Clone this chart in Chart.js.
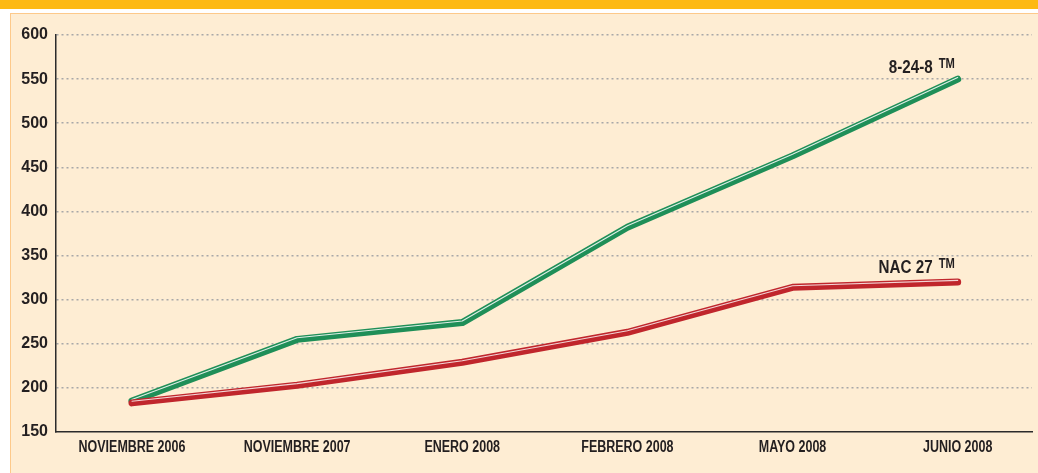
<!DOCTYPE html>
<html>
<head>
<meta charset="utf-8">
<script src="https://cdn.jsdelivr.net/npm/chart.js@4/dist/chart.umd.min.js"></script>
<style>
  html, body { margin: 0; padding: 0; background: #ffffff; overflow: hidden; }
  #band { position: absolute; left: 0; top: 0; width: 1038px; height: 9px; background: #fdb913; }
  #panel { position: absolute; left: 10px; top: 13px; width: 1040px; height: 480px;
           background: #feedd3; border: 1.5px solid #fdc98a; box-sizing: border-box; }
  #chart { position: absolute; left: 0; top: 0; }
</style>
</head>
<body>
<div id="band"></div>
<div id="panel"></div>
<canvas id="chart" width="1038" height="473"></canvas>
<script>
const categories = ['NOVIEMBRE 2006', 'NOVIEMBRE 2007', 'ENERO 2008', 'FEBRERO 2008', 'MAYO 2008', 'JUNIO 2008'];
const serie8248 = [185, 255, 274, 382, 463, 550];
const serieNac27 = [183, 203, 229, 263, 314, 320];
const seriesNames = ['8-24-8', 'NAC 27'];
const yTicks = [150, 200, 250, 300, 350, 400, 450, 500, 550, 600];

const verde = '#1f8f58';
const rojo = '#c0262c';
const tinta = '#231f20';
const fuente = '"Liberation Sans", Arial, sans-serif';

function puntos(valores) {
    return valores.map((v, i) => ({ x: i, y: v }));
}

// texto estrecho (tipo Helvetica condensada)
function textoEstrecho(ctx, texto, x, y, align, escala) {
    ctx.save();
    ctx.translate(x, y);
    ctx.scale(escala, 1);
    ctx.textAlign = align;
    ctx.fillText(texto, 0, 0);
    ctx.restore();
}

// brillo blanco sobre las lineas
const brilloPlugin = {
    id: 'brillo',
    beforeDatasetDraw(chart, args) {
        if (args.meta._dataset.brillo) {
            chart.ctx.save();
            chart.ctx.translate(0, -1.6);
        }
    },
    afterDatasetDraw(chart, args) {
        if (args.meta._dataset.brillo) chart.ctx.restore();
    }
};

// etiquetas del eje x, mas estrechas
const ejeXPlugin = {
    id: 'ejeX',
    afterDraw(chart) {
        const ctx = chart.ctx;
        const x = chart.scales.x;
        ctx.save();
        ctx.fillStyle = tinta;
        ctx.font = 'bold 16px ' + fuente;
        ctx.textBaseline = 'middle';
        categories.forEach((c, i) => {
            textoEstrecho(ctx, c, x.getPixelForValue(i), x.top + 16, 'center', 0.78);
        });
        ctx.restore();
    }
};

// etiquetas con TM al final de cada linea
const etiquetasPlugin = {
    id: 'etiquetas',
    afterDatasetsDraw(chart) {
        const ctx = chart.ctx;
        const config = [
            { ds: 0, nombre: seriesNames[0], dy: -6 },
            { ds: 2, nombre: seriesNames[1], dy: -9 }
        ];
        config.forEach(c => {
            const meta = chart.getDatasetMeta(c.ds);
            const p = meta.data[meta.data.length - 1];
            ctx.save();
            ctx.fillStyle = tinta;
            ctx.textBaseline = 'alphabetic';
            ctx.font = 'bold 19px ' + fuente;
            textoEstrecho(ctx, c.nombre, p.x - 25, p.y + c.dy, 'right', 0.8);
            ctx.font = 'bold 14px ' + fuente;
            textoEstrecho(ctx, 'TM', p.x - 19, p.y + c.dy - 5, 'left', 0.8);
            ctx.restore();
        });
    }
};

const ctx = document.getElementById('chart').getContext('2d');
new Chart(ctx, {
    type: 'line',
    data: {
        datasets: [
            { data: puntos(serie8248), borderColor: verde, borderWidth: 7, order: 4 },
            { data: puntos(serie8248), borderColor: 'rgba(255,255,255,0.85)', borderWidth: 1.1, order: 3, brillo: true },
            { data: puntos(serieNac27), borderColor: rojo, borderWidth: 7, order: 2 },
            { data: puntos(serieNac27), borderColor: 'rgba(255,255,255,0.8)', borderWidth: 1.1, order: 1, brillo: true }
        ]
    },
    options: {
        responsive: false,
        animation: false,
        layout: { padding: { left: 0, right: 6, top: 35, bottom: 0 } },
        elements: {
            point: { radius: 0 },
            line: { tension: 0, borderCapStyle: 'round', borderJoinStyle: 'round', fill: false }
        },
        plugins: { legend: { display: false }, tooltip: { enabled: false } },
        scales: {
            x: {
                type: 'linear',
                min: -0.46,
                max: 5.45,
                afterBuildTicks: scale => { scale.ticks = categories.map((c, i) => ({ value: i })); },
                afterFit: scale => { scale.height = 41; },
                grid: { display: false },
                border: { display: true, color: '#2b2b2b', width: 1.5 },
                ticks: { display: false }
            },
            y: {
                min: 150,
                max: 600,
                afterBuildTicks: scale => { scale.ticks = yTicks.map(v => ({ value: v })); },
                afterFit: scale => { scale.width = 56; },
                grid: {
                    drawTicks: false,
                    color: c => c.tick && c.tick.value === 150 ? 'rgba(0,0,0,0)' : '#a8a8a8',
                    lineWidth: 1.5
                },
                border: { display: true, color: '#2b2b2b', width: 1.5, dash: [2, 3] },
                ticks: {
                    padding: 8,
                    color: tinta,
                    font: { family: fuente, size: 16, weight: 'bold' }
                }
            }
        }
    },
    plugins: [brilloPlugin, ejeXPlugin, etiquetasPlugin]
});
</script>
</body>
</html>
